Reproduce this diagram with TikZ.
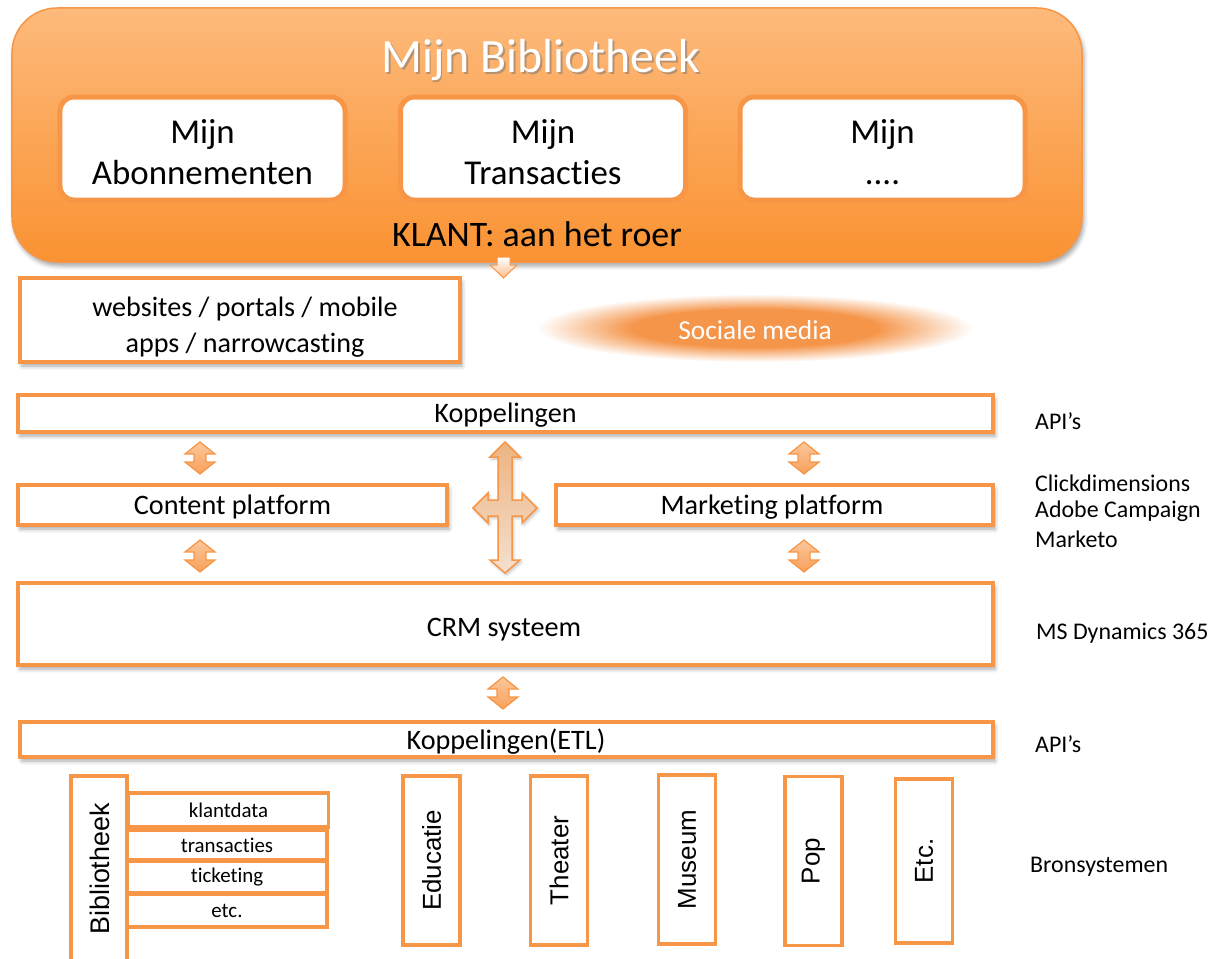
\documentclass[tikz,border=0pt]{standalone}
\usepackage{fontspec}
\setmainfont[Ligatures=NoCommon]{Carlito}
\newfontfamily\arialf{Liberation Sans}
\usetikzlibrary{shadows.blur}
\definecolor{orB}{HTML}{F79646}
\definecolor{orTop}{HTML}{FDBA7C}
\definecolor{orBot}{HTML}{FA9232}
\definecolor{glow}{HTML}{F5954A}
\definecolor{arTop}{HTML}{FBC79C}
\definecolor{arMid}{HTML}{FFE9D8}
\definecolor{arBot}{HTML}{F8A05A}
\definecolor{crossTop}{HTML}{EDB482}
\definecolor{crossBot}{HTML}{F4E0CE}
\pgfdeclareradialshading{softglow}{\pgfpoint{0bp}{0bp}}{color(0bp)=(glow); color(14bp)=(glow); color(25bp)=(white); color(50bp)=(white)}
\newcommand\fsz[2]{\fontsize{#1}{#2}\selectfont}
\tikzset{
  shad/.style={blur shadow={shadow xshift=2bp, shadow yshift=-4bp, shadow blur radius=4bp, shadow opacity=35}},
  box/.style={draw=orB, line width=3.5bp, fill=white, inner sep=0pt, outer sep=0pt},
  sbox/.style={box, shad},
  mijnbox/.style={draw=orB, line width=5bp, fill=white, rounded corners=14bp, inner sep=0pt,
      minimum width=285bp, minimum height=103bp},
  mijntext/.style={align=center, font=\fsz{35}{41}},
  midtext/.style={font=\fsz{28.3}{32}},
  vbox/.style={box, minimum width=57bp, minimum height=169bp},
  vtext/.style={rotate=90, font=\arialf\fsz{26}{30}},
  subbox/.style={box, minimum width=200bp, font=\fsz{21}{25}},
  rlabel/.style={anchor=west, inner sep=0pt, font=\fsz{24}{28}},
  arrowfill/.style={draw=orB, line width=1.2bp, top color=arTop, middle color=arMid, bottom color=arBot},
  udarrow/.pic={\path[arrowfill] (0,-16)--(15,-4)--(6,-4)--(6,4)--(15,4)--(0,16)--(-15,4)--(-6,4)--(-6,-4)--(-15,-4)--cycle;},
}
\begin{document}
\begin{tikzpicture}[x=1bp,y=-1bp]
\useasboundingbox (0,0) rectangle (1214,959);
% top box
\node[draw=orB, line width=1.5bp, rounded corners=45bp, top color=orTop, bottom color=orBot,
      minimum width=1070bp, minimum height=254bp, inner sep=0pt, shad] (top) at (547,135) {};
\node[text=black!55, opacity=0.5, font=\fsz{48}{52}] (titleshadow) at (542.5,61.5) {Mijn Bibliotheek};
\node[text=white, font=\fsz{48}{52}] (title) at (541,60) {Mijn Bibliotheek};
\node[mijnbox] (abon) at (202.5,148.5) {};
\node[mijntext] (abontext) at (202.5,152) {Mijn\\Abonnementen};
\node[mijnbox] (trans) at (543,148.5) {};
\node[mijntext] (transtext) at (543,152) {Mijn\\Transacties};
\node[mijnbox] (more) at (882.5,148.5) {};
\node[mijntext] (moretext) at (882.5,152) {Mijn\\....};
\node[font=\fsz{36}{40}] (klant) at (537,234) {KLANT: aan het roer};
% down arrow
\path[draw=orB, line width=1bp, top color=white, bottom color=arBot!70!white]
  (497,257)--(510,257)--(510,265)--(517,265)--(503.5,278)--(490,265)--(497,265)--cycle;
% websites
\node[sbox, minimum width=440bp, minimum height=84bp] (web) at (240,320) {};
\node[align=center, font=\fsz{28.2}{36}] (webtext) at (245,327) {websites / portals / mobile\\apps / narrowcasting};
% social media
\shade[shading=softglow] (755,328) ellipse (218 and 34);
\node[text=white, font=\fsz{27.5}{32}] (social) at (755,330) {Sociale media};
% middle
\node[sbox, minimum width=975bp, minimum height=37bp] (kop) at (505.5,413.5) {};
\node[midtext] (koptext) at (505.5,415) {Koppelingen};
\node[sbox, minimum width=429bp, minimum height=40bp] (content) at (232.5,505) {};
\node[midtext] (contenttext) at (232.5,507) {Content platform};
\node[sbox, minimum width=437bp, minimum height=40bp] (market) at (774.5,505) {};
\node[midtext] (markettext) at (772,507) {Marketing platform};
\node[sbox, minimum width=975bp, minimum height=82bp] (crm) at (505.5,624) {};
\node[midtext] (crmtext) at (504,630) {CRM systeem};
\node[sbox, minimum width=973bp, minimum height=35bp] (etl) at (506.5,739.5) {};
\node[midtext] (etltext) at (506,742) {Koppelingen(ETL)};
% arrows
\pic at (200,458) {udarrow};
\pic at (804,458) {udarrow};
\pic at (200,556) {udarrow};
\pic at (804,556) {udarrow};
\pic at (503,693) {udarrow};
\path[draw=orB, line width=1.5bp, top color=crossTop, bottom color=crossBot,
      blur shadow={shadow xshift=1.5bp, shadow yshift=-2bp, shadow blur radius=3bp, shadow opacity=25}]
  (505,442)--(520,457)--(512,457)--(512,500)--(522,500)--(522,493)--(537,508)--(522,523)--(522,516)--(512,516)--(512,560)--(520,560)--(505,573)
  --(490,560)--(498,560)--(498,516)--(488,516)--(488,523)--(473,508)--(488,493)--(488,500)--(498,500)--(498,457)--(490,457)--cycle;
% right labels
\node[rlabel] (api1) at (1035,421) {API’s};
\node[rlabel] (click) at (1035,483) {Clickdimensions};
\node[rlabel] (adobe) at (1035,511) {Adobe Campaign};
\node[rlabel] (marketo) at (1035,539) {Marketo};
\node[rlabel] (msd) at (1036,633) {MS Dynamics 365};
\node[rlabel] (api2) at (1035,744) {API’s};
\node[rlabel] (bron) at (1030,867) {Bronsystemen};
% bottom sources
\node[box, minimum width=56bp, minimum height=192bp] (bib) at (99,872) {};
\node[vtext, font=\arialf\fsz{27}{30}] (bibtext) at (100,869) {Bibliotheek};
\node[subbox, minimum height=34bp] (klantdata) at (228.5,810) {klantdata};
\node[subbox, minimum height=30bp] (transacties) at (227,845) {transacties};
\node[subbox, minimum height=32bp] (ticketing) at (227,877) {ticketing};
\node[subbox, minimum height=33bp] (etcsub) at (227,910.5) {etc.};
\node[vbox] (edu) at (431.5,860.5) {};
\node[vtext] (edutext) at (edu) {Educatie};
\node[vbox] (theater) at (559,860.5) {};
\node[vtext] (theatertext) at (theater) {Theater};
\node[vbox] (museum) at (687,859.5) {};
\node[vtext] (museumtext) at (museum) {Museum};
\node[vbox] (pop) at (813.5,861) {};
\node[vtext] (poptext) at (pop) {Pop};
\node[vbox, minimum height=164bp] (etc) at (924,861) {};
\node[vtext] (etctext) at (etc) {Etc.};
\end{tikzpicture}
\end{document}
